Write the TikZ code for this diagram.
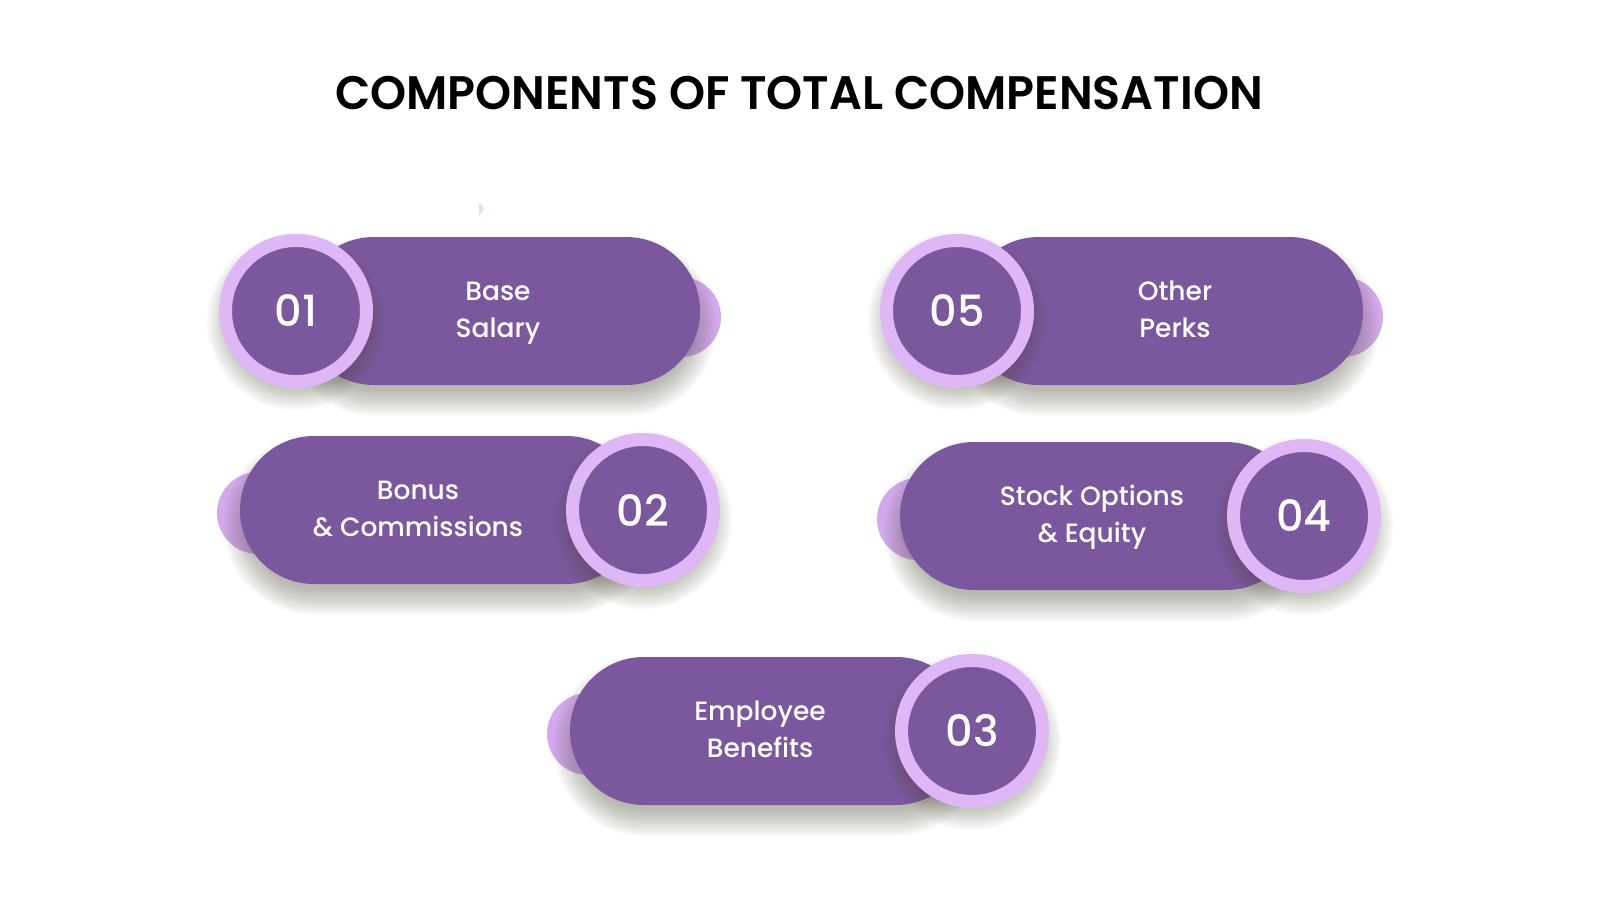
\documentclass[tikz,border=0pt]{standalone}
\usepackage{fontspec}
\setmainfont{Poppins}
\newfontfamily\medfont{Poppins Medium}
\newfontfamily\semifont{Poppins SemiBold}
\definecolor{pillpurple}{RGB}{123,88,157}
\definecolor{ringlav}{RGB}{223,183,247}
\definecolor{tablav}{RGB}{212,168,236}
\definecolor{specklav}{RGB}{228,222,246}
\definecolor{shadowc}{RGB}{55,60,35}
\tikzset{
  pillshape/.style={fill=pillpurple, rounded corners=73.9pt},
  tabshape/.style={fill=tablav},
  shadowlayer/.style={fill=shadowc, opacity=0.026},
  ringnode/.style={circle, inner sep=0pt, minimum size=141pt, fill=pillpurple, draw=ringlav, line width=13pt,
    text=white, font=\medfont\fontsize{43}{43}\selectfont},
  lbl/.style={text=white, align=center, font=\medfont\fontsize{26.5}{37}\selectfont, inner sep=0pt},
  titlenode/.style={text=black, font=\semifont\fontsize{47}{47}\selectfont, inner sep=0pt, xscale=0.977}
}
% soft shadow under a pill: x1 y1 x2 y2
\newcommand\pillshadow[4]{%
  \foreach \k in {0,...,13}{%
    \pgfmathsetmacro\ee{16-2*\k}%
    \pgfmathsetmacro\rr{(#4-#2)/2+\ee-0.1}%
    \fill[shadowlayer, rounded corners=\rr pt] ({#1-\ee},{#2-\ee+15}) rectangle ({#3+\ee},{#4+\ee+15});
  }%
}
% soft shadow under a ring: x y
\newcommand\ringshadow[2]{%
  \foreach \k in {0,...,12}{%
    \pgfmathsetmacro\ee{12-2*\k}%
    \fill[shadowlayer] (#1,{#2+10}) circle ({77+\ee});
  }%
}
\begin{document}
\begin{tikzpicture}[x=1pt,y=-1pt]
\useasboundingbox (0,0) rectangle (1600,900);
\fill[white] (0,0) rectangle (1600,900);

\node[titlenode] (title) at (799,93) {COMPONENTS OF TOTAL COMPENSATION};
\fill[specklav] (479,203) .. controls (485,205) and (485,213) .. (479,215) -- cycle;

% 01 Base Salary
\fill[tabshape] (681,317) circle (40pt);
\pillshadow{300}{237}{700}{385}
\fill[pillshape] (300,237) rectangle (700,385);
\ringshadow{296}{311}
\node[ringnode] (c1) at (296,311) {01};
\node[lbl] (t1) at (498,312) {\strut Base\\\strut Salary};

% 05 Other Perks
\fill[tabshape] (1343,317) circle (40pt);
\pillshadow{965}{237}{1363}{385}
\fill[pillshape] (965,237) rectangle (1363,385);
\ringshadow{957}{311}
\node[ringnode] (c5) at (957,311) {05};
\node[lbl] (t5) at (1175,312) {\strut Other\\\strut Perks};

% 02 Bonus & Commissions
\fill[tabshape] (258,513) circle (41pt);
\pillshadow{240}{436}{640}{584}
\fill[pillshape] (240,436) rectangle (640,584);
\ringshadow{643}{510}
\node[ringnode] (c2) at (643,510) {02};
\node[lbl] (t2) at (418,511) {\strut Bonus\\\strut\& Commissions};

% 04 Stock Options & Equity
\fill[tabshape] (918,519) circle (41pt);
\pillshadow{900}{442}{1300}{590}
\fill[pillshape] (900,442) rectangle (1300,590);
\ringshadow{1304}{516}
\node[ringnode] (c4) at (1304,516) {04};
\node[lbl] (t4) at (1092,517) {\strut Stock Options\\\strut\& Equity};

% 03 Employee Benefits
\fill[tabshape] (588,734) circle (41pt);
\pillshadow{570}{657}{970}{805}
\fill[pillshape] (570,657) rectangle (970,805);
\ringshadow{972}{731}
\node[ringnode] (c3) at (972,731) {03};
\node[lbl] (t3) at (760,732) {\strut Employee\\\strut Benefits};
\end{tikzpicture}
\end{document}
